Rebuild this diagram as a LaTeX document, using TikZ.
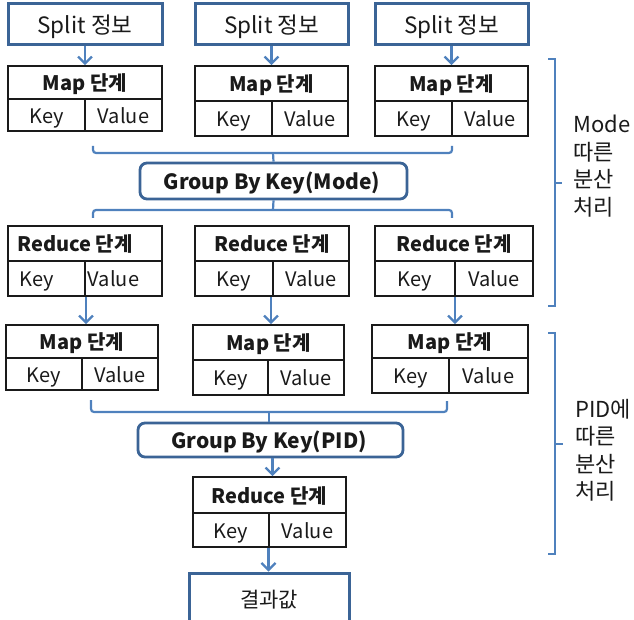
\documentclass[tikz,border=0pt]{standalone}
\usepackage{fontspec}
\setmainfont{Noto Sans CJK KR}
\usetikzlibrary{arrows.meta,calc}

\definecolor{boxblue}{HTML}{3B6496}
\definecolor{linkblue}{HTML}{4F81BD}
\definecolor{ink}{HTML}{1A1A1A}

\tikzset{
  lbl/.style={text=ink, inner sep=0pt, text depth=0pt},
  srcbox/.style={draw=boxblue, line width=3pt, inner sep=0pt},
  srctext/.style={lbl, text height=16pt, font=\fontsize{22.5}{26}\selectfont},
  groupbox/.style={draw=boxblue, line width=2.8pt, rounded corners=7pt, inner sep=0pt},
  grouptext/.style={lbl, text height=15pt, font=\bfseries\fontsize{21}{25}\selectfont},
  tblbox/.style={draw=ink, line width=1.8pt, inner sep=0pt},
  tblline/.style={draw=ink, line width=1.6pt},
  titletext/.style={lbl, text height=14.5pt, font=\bfseries\fontsize{20}{24}\selectfont},
  kvtext/.style={lbl, text height=14.5pt, font=\fontsize{20}{24}\selectfont},
  link/.style={draw=linkblue, line width=2.2pt},
  arr/.style={link, -{Straight Barb[length=7pt,width=14pt,line width=2.2pt]}},
  joint/.style={link, rounded corners=3pt},
  bracket/.style={draw=linkblue, line width=1.8pt},
  sidetext/.style={text=ink, inner sep=0pt, anchor=north west, align=left, font=\fontsize{22}{27.5}\selectfont},
}

% table with a bold title row and a Key / Value row
% #1 name, #2 x1, #3 y1, #4 x2, #5 y2, #6 y of the row divider, #7 x of the cell divider, #8 title, #9 text options
\newcommand\kvtable[9]{%
  \node[tblbox, minimum width={(#4-#2)*1pt}, minimum height={(#5-#3)*1pt}] (#1) at ({(#2+#4)/2},{(#3+#5)/2}) {};
  \draw[tblline] (#2,#6) -- (#4,#6);
  \draw[tblline] (#7,#6) -- (#7,#5);
  \node[titletext,#9] (#1-t) at ({(#2+#4)/2},{(#3+#6)/2+1}) {#8};
  \node[kvtext,#9] (#1-k) at ({(#2+#7)/2},{(#6+#5)/2+1}) {Key};
  \node[kvtext,#9] (#1-v) at ({(#7+#4)/2},{(#6+#5)/2+1}) {Value};
}

\begin{document}
\begin{tikzpicture}[x=1pt,y=-1pt]
\useasboundingbox (0,0) rectangle (634,620);

% input splits
\node[srcbox, minimum width=154pt, minimum height=41pt] (s1) at (85,24.5) {};
\node[srcbox, minimum width=153pt, minimum height=41pt] (s2) at (271.5,24.5) {};
\node[srcbox, minimum width=153pt, minimum height=41pt] (s3) at (451.5,24.5) {};
\node[srctext] (s1-t) at (85,25.5) {Split 정보};
\node[srctext] (s2-t) at (271.5,25.5) {Split 정보};
\node[srctext] (s3-t) at (451.5,25.5) {Split 정보};

% first map stage
\kvtable{m1}{8}{66}{162}{131}{99}{85}{Map 단계}{}
\kvtable{m2}{195}{66}{348}{136}{101}{272}{Map 단계}{}
\kvtable{m3}{375}{66}{528}{136}{101}{452}{Map 단계}{}

\draw[arr] (s1.south) -- (m1.north);
\draw[arr] (s2.south) -- (m2.north);
\draw[arr] (s3.south) -- (m3.north);

% grouping by mode
\node[groupbox, minimum width=267pt, minimum height=36pt] (g1) at (273.5,181) {};
\node[grouptext] (g1-t) at (272,182) {Group By Key(Mode)};

\coordinate (ja) at (93,146);
\coordinate (jb) at (452,146);
\coordinate (jc) at (273,153);
\draw[joint] (ja) |- (jc) -| (jb);
\draw[link] (jc) -- (g1.north);

\coordinate (jd) at (273,210);
\coordinate (je) at (93,218);
\coordinate (jf) at (452,218);
\draw[link] (g1.south) -- (jd);
\draw[joint] (je) |- (jd) -| (jf);

% reduce stage per mode
\kvtable{r1}{8}{226}{162}{296}{261}{85}{Reduce 단계}{xshift=-10pt}
\kvtable{r2}{195}{226}{349}{296}{261}{273}{Reduce 단계}{}
\kvtable{r3}{375}{226}{533}{296}{261}{455}{Reduce 단계}{}

% second map stage
\kvtable{m4}{6}{325}{158}{390}{358}{82}{Map 단계}{}
\kvtable{m5}{193}{325}{344}{395}{360}{268}{Map 단계}{}
\kvtable{m6}{372}{325}{528}{393}{358}{449}{Map 단계}{}

\draw[arr] ([xshift=1pt]r1.south) -- ([xshift=1pt]r1.south |- m4.north);
\draw[arr] ([xshift=-1pt]r2.south) -- ([xshift=-1pt]r2.south |- m5.north);
\draw[arr] ([xshift=1pt]r3.south) -- ([xshift=1pt]r3.south |- m6.north);

% grouping by PID
\node[groupbox, minimum width=265pt, minimum height=34pt] (g2) at (270.5,440) {};
\node[grouptext] (g2-t) at (269,441) {Group By Key(PID)};

\coordinate (ka) at (91,400);
\coordinate (kb) at (447,401);
\coordinate (kc) at (269,412);
\draw[joint] (ka) |- (kc) -| (kb);
\draw[link] (kc) -- (kc |- g2.north);

% final reduce and result
\kvtable{rf}{193}{477}{346}{547}{513}{269}{Reduce 단계}{}
\draw[arr] ([xshift=2pt]g2.south) -- ([xshift=2pt]g2.south |- rf.north);

\node[srcbox, minimum width=160pt, minimum height=54pt] (res) at (269,600) {};
\node[lbl, text height=15pt, font=\fontsize{21}{25}\selectfont] (res-t) at (269,600) {결과값};
\draw[arr] ([xshift=-1pt]rf.south) -- ([xshift=-1pt]rf.south |- res.north);

% side brackets
\draw[bracket] (548,59) -- (555,59) -- (555,306) -- (548,306);
\draw[bracket] (555,183) -- (562,183);
\node[sidetext] (lab1) at (573,115) {Mode\\따른\\분산\\처리};

\draw[bracket] (548,333) -- (555,333) -- (555,554) -- (548,554);
\draw[bracket] (555,444) -- (563,444);
\node[sidetext] (lab2) at (575,399) {PID에\\따른\\분산\\처리};

\end{tikzpicture}
\end{document}
